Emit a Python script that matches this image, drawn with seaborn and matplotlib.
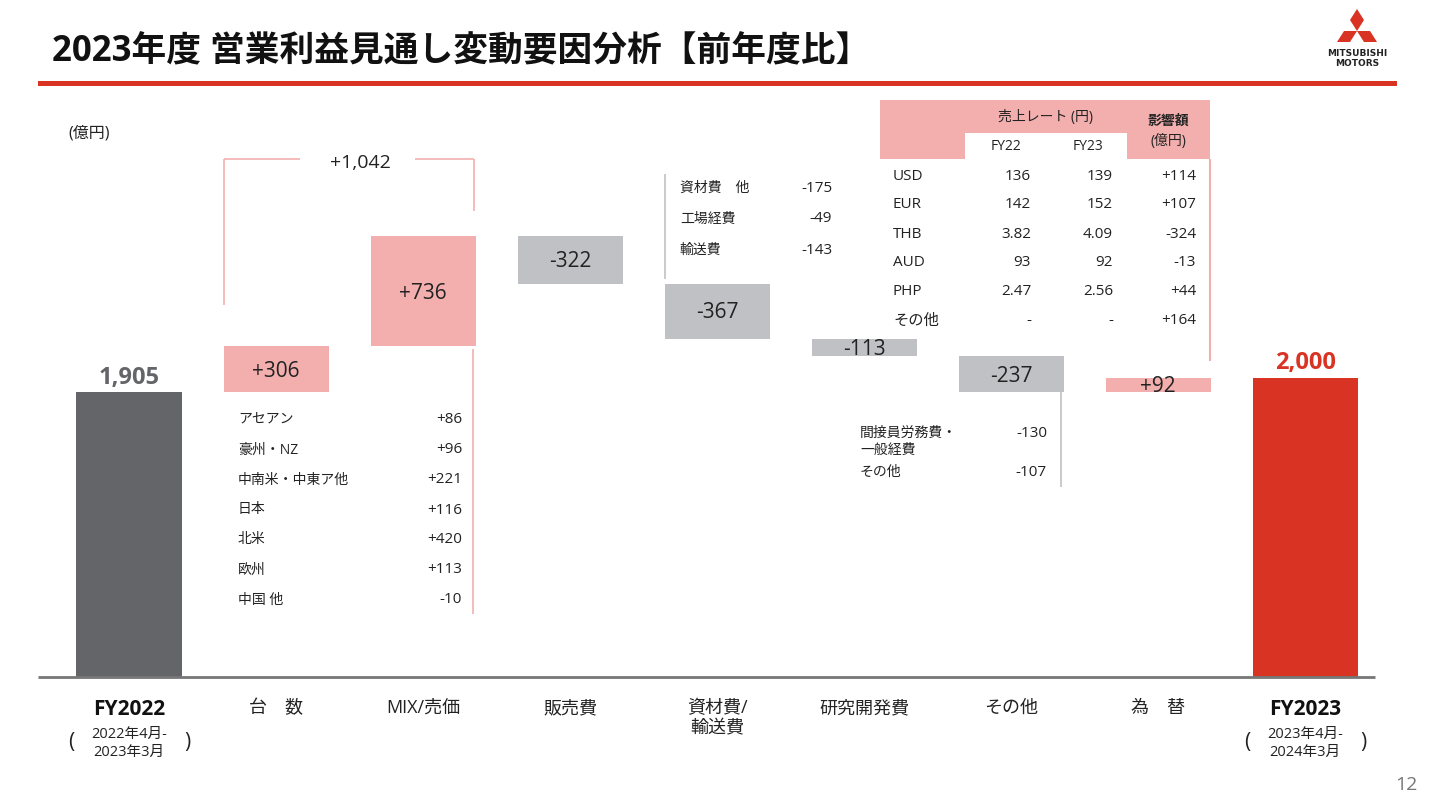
import matplotlib
matplotlib.use("Agg")
import matplotlib.pyplot as plt
import seaborn as sns
import numpy as np
from matplotlib.patches import Polygon, Rectangle

sns.set_theme(style="white")
plt.rcParams["font.family"] = ["Open Sans", "Noto Sans CJK JP"]

categories = ["FY2022", "台　数", "MIX/売価", "販売費", "資材費/\n輸送費", "研究開発費", "その他", "為　替", "FY2023"]
deltas = [1905, 306, 736, -322, -367, -113, -237, 92, 2000]
delta_labels = ["1,905", "+306", "+736", "-322", "-367", "-113", "-237", "+92", "2,000"]

region_names = ["アセアン", "豪州・NZ", "中南米・中東ア他", "日本", "北米", "欧州", "中国 他"]
region_vals = ["+86", "+96", "+221", "+116", "+420", "+113", "-10"]
mat_names = ["資材費　他", "工場経費", "輸送費"]
mat_vals = ["-175", "-49", "-143"]
oth_names = ["間接員労務費・\n一般経費", "その他"]
oth_vals = ["-130", "-107"]
cur_names = ["USD", "EUR", "THB", "AUD", "PHP", "その他"]
cur_fy22 = ["136", "142", "3.82", "93", "2.47", "-"]
cur_fy23 = ["139", "152", "4.09", "92", "2.56", "-"]
cur_imp = ["+114", "+107", "-324", "-13", "+44", "+164"]

GREY = "#646569"; RED = "#D93324"; PINK = "#F2AFAE"; LGREY = "#BFC1C4"; TXT = "#222222"

W, H = 1434, 804
fig = plt.figure(figsize=(W/100, H/100), dpi=100)
S = 0.1496
ax = fig.add_axes([55.5/W, 0, 1323/W, 1])
ax.set_xlim(-0.5, 8.5)
ax.set_ylim(-(H-678)/S, 678/S)
ax.axis("off")

bottoms, heights, colors = [], [], []
run = 0
for i, d in enumerate(deltas):
    if i == 0 or i == len(deltas)-1:
        bottoms.append(0); heights.append(d); run = d if i == 0 else run
        colors.append(GREY if i == 0 else RED)
    else:
        bottoms.append(run if d >= 0 else run + d); heights.append(abs(d))
        colors.append(PINK if d >= 0 else LGREY)
        run += d
ax.bar(range(len(deltas)), heights, bottom=bottoms, width=105/147, color=colors, linewidth=0)

o = fig.add_axes([0, 0, 1, 1]); o.set_xlim(0, W); o.set_ylim(H, 0); o.axis("off")
def ln(x0, y0, x1, y1, c=PINK, lw=1.2):
    o.plot([x0, x1], [y0, y1], color=c, lw=lw, solid_capstyle="butt")
def tx(x, y, s, size=11, ha="left", c=TXT, **k):
    o.text(x, y, s, fontsize=size, ha=ha, va="center", color=c, **k)

tx(52, 52, "2023年度 営業利益見通し変動要因分析【前年度比】", size=25, weight="bold", c="#111111")
o.add_patch(Rectangle((38, 82), 1359, 5, color=RED, lw=0))
cx = 1357
for pts in [[(cx, 10), (cx+7, 21), (cx, 32), (cx-7, 21)],
            [(cx, 32), (cx+13, 32), (cx+20, 43), (cx+7, 43)],
            [(cx, 32), (cx-13, 32), (cx-20, 43), (cx-7, 43)]]:
    o.add_patch(Polygon(pts, color=RED, lw=0))
tx(cx, 53, "MITSUBISHI", size=6.5, ha="center", weight="bold", family="DejaVu Sans")
tx(cx, 63, "MOTORS", size=6.5, ha="center", weight="bold", family="DejaVu Sans")
tx(68, 133, "(億円)", size=11.5)
tx(1418, 785, "12", size=14, ha="right", c="#777777")

ln(38, 678, 1375, 678, c="#777777", lw=2)

lab_y = [378, 372, 294, 262, 313, 350, 377, 387, 363]
for i, s in enumerate(delta_labels):
    px = 129 + 147*i
    if i == 0:
        tx(px, lab_y[i], s, size=17, ha="center", c=GREY, weight="bold")
    elif i == 8:
        tx(px, lab_y[i], s, size=17, ha="center", c=RED, weight="bold")
    else:
        tx(px, lab_y[i], s, size=15, ha="center", c=TXT)

for i, s in enumerate(categories):
    px = 129 + 147*i
    if i in (0, 8):
        tx(px, 710, s, size=15, ha="center", weight="bold", c="#111111")
    else:
        o.text(px, 699, s, fontsize=13, ha="center", va="top", color=TXT, linespacing=1.2)
for px, a, b in [(129, "2022年4月-", "2023年3月"), (1305, "2023年4月-", "2024年3月")]:
    tx(px, 734, a, size=10.5, ha="center"); tx(px, 752, b, size=10.5, ha="center")
    tx(px-58, 743, "(", size=15, ha="center"); tx(px+58, 743, ")", size=15, ha="center")

ln(224, 306, 224, 160); ln(224, 160, 300, 160)
ln(415, 160, 474, 160); ln(474, 160, 474, 212)
tx(360, 163, "+1,042", size=14, ha="center")
ln(473, 350, 473, 615)
for k, (n, v) in enumerate(zip(region_names, region_vals)):
    y = 420 + 30*k
    tx(238, y, n, size=10); tx(462, y, v, size=11, ha="right")

ln(665, 175, 665, 280, c=LGREY)
for k, (n, v) in enumerate(zip(mat_names, mat_vals)):
    y = 188 + 31*k
    tx(680, y, n, size=10); tx(832, y, v, size=11, ha="right")

ln(1061, 392, 1061, 488, c=LGREY)
o.text(860, 426, oth_names[0], fontsize=10, ha="left", va="top", color=TXT, linespacing=1.15)
tx(1047, 434, oth_vals[0], size=11, ha="right")
tx(860, 472, oth_names[1], size=10); tx(1047, 473, oth_vals[1], size=11, ha="right")

o.add_patch(Rectangle((880, 101), 330, 59, color=PINK, lw=0))
o.add_patch(Rectangle((965, 134), 162, 26, color="white", lw=0))
ln(1210, 160, 1210, 362, lw=1.5)
tx(1046, 117, "売上レート (円)", size=10, ha="center")
tx(1006, 147, "FY22", size=10, ha="center"); tx(1088, 147, "FY23", size=10, ha="center")
tx(1168, 121, "影響額", size=10, ha="center", weight="bold"); tx(1168, 141, "(億円)", size=10, ha="center")
for k in range(len(cur_names)):
    y = 176 + 29*k
    tx(893, y, cur_names[k], size=11)
    tx(1031, y, cur_fy22[k], size=11, ha="right")
    tx(1113, y, cur_fy23[k], size=11, ha="right")
    tx(1196, y, cur_imp[k], size=11, ha="right")

fig.savefig("out.png", dpi=100)
